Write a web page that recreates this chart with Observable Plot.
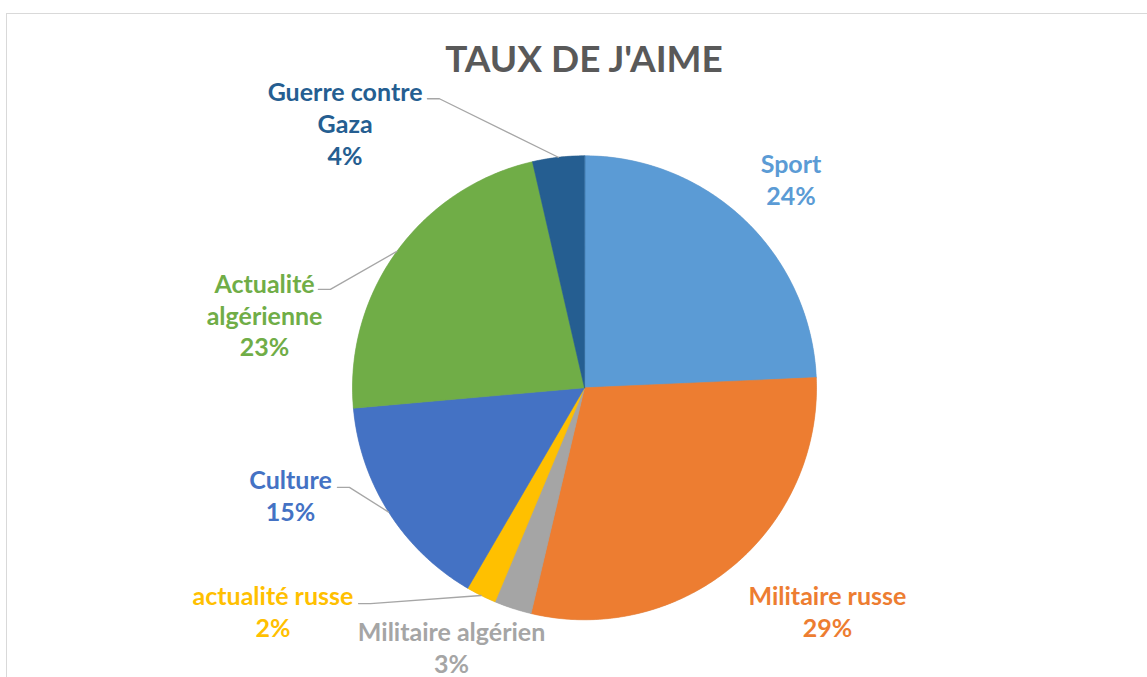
<!DOCTYPE html>
<html>
<head>
<meta charset="utf-8">
<script src="https://cdn.jsdelivr.net/npm/d3@7"></script>
<script src="https://cdn.jsdelivr.net/npm/@observablehq/plot@0.6"></script>
<style>
  html, body { margin: 0; padding: 0; background: #fff; }
  #wrap { position: relative; width: 1147px; height: 677px; overflow: hidden; background: #fff; }
  #border { position: absolute; left: 6px; top: 13px; width: 1200px; height: 700px;
            border-left: 1.5px solid #d9d9d9; border-top: 1.5px solid #d9d9d9; }
  #title { position: absolute; left: 0; width: 1168px; top: 36px; text-align: center;
           font-family: Lato, "Open Sans", sans-serif; font-weight: 700; font-size: 37px;
           color: #595959; line-height: 44px; }
  #chart { position: absolute; left: 0; top: 0; }
</style>
</head>
<body>
<div id="wrap">
  <div id="border"></div>
  <div id="chart"></div>
  <div id="title">TAUX DE J'AIME</div>
</div>
<script>
// ---- Data ----
const categories = ["Sport", "Militaire russe", "Militaire algérien", "actualité russe", "Culture", "Actualité algérienne", "Guerre contre Gaza"];
const shares = [24.3, 29.4, 2.6, 2.1, 15.2, 22.8, 3.6];
const labelNames = ["Sport", "Militaire russe", "Militaire algérien", "actualité russe", "Culture", "Actualité\nalgérienne", "Guerre contre\nGaza"];
const colors = ["#5B9BD5", "#ED7D31", "#A5A5A5", "#FFC000", "#4472C4", "#70AD47", "#255E91"];

// ---- Layout (in units of the pie radius, relative to the pie centre) ----
const W = 1147, H = 677, CX = 584, CY = 387.3, R = 232;
const labelAnchor = [[0.890, -0.901], [1.047, 0.962], [-0.573, 1.117], [-1.343, 0.963], [-1.267, 0.461], [-1.379, -0.317], [-1.032, -1.141]];
const leaderStart = [null, null, null, [-0.974, 0.930], [-1.065, 0.429], [-1.147, -0.424], [-0.677, -1.246]];
const elbow = 12 / R;

// ---- Build geometry from data ----
const total = d3.sum(shares);
let acc = 0;
const slices = categories.map((name, i) => {
  const a0 = acc / total * 2 * Math.PI;
  acc += shares[i];
  const a1 = acc / total * 2 * Math.PI;
  return {name, value: shares[i], a0, a1, mid: (a0 + a1) / 2, i};
});
const slicePts = [];
for (const s of slices) {
  slicePts.push({name: s.name, x: 0, y: 0});
  const n = Math.max(2, Math.ceil((s.a1 - s.a0) / (Math.PI / 360)));
  for (let k = 0; k <= n; k++) {
    const t = s.a0 + (s.a1 - s.a0) * k / n;
    slicePts.push({name: s.name, x: Math.sin(t), y: -Math.cos(t)});
  }
}
const labels = slices.map(s => ({
  name: s.name,
  x: labelAnchor[s.i][0],
  y: labelAnchor[s.i][1],
  text: labelNames[s.i] + "\n" + Math.round(s.value) + "%"
}));
const leaderPts = [];
for (const s of slices) {
  const st = leaderStart[s.i];
  if (!st) continue;
  leaderPts.push({name: s.name, x: st[0], y: st[1]});
  leaderPts.push({name: s.name, x: st[0] + elbow, y: st[1]});
  leaderPts.push({name: s.name, x: Math.sin(s.mid), y: -Math.cos(s.mid)});
}

const font = "Lato, 'Open Sans', sans-serif";
const chart = Plot.plot({
  width: W,
  height: H,
  margin: 0,
  style: {background: "transparent", overflow: "visible"},
  x: {domain: [-CX / R, (W - CX) / R], range: [0, W], axis: null},
  y: {domain: [-CY / R, (H - CY) / R], range: [0, H], axis: null},
  color: {domain: categories, range: colors},
  marks: [
    // shadow layer under the pie
    Plot.dot([{x: 0, y: 0}], {x: "x", y: "y", r: R, fill: "#000", fillOpacity: 0.32, stroke: null, ariaLabel: "shadow"}),
    ...slices.map(s => Plot.line(slicePts.filter(p => p.name === s.name), {x: "x", y: "y", fill: colors[s.i], stroke: colors[s.i], strokeWidth: 0.6, curve: "linear-closed"})),
    Plot.line(leaderPts, {x: "x", y: "y", z: "name", stroke: "#a6a6a6", strokeWidth: 1.3}),
    Plot.text(labels, {x: "x", y: "y", text: "text", fill: "name", fontSize: 25, fontWeight: 700, fontFamily: font, lineHeight: 1.28, lineAnchor: "middle", textAnchor: "middle"})
  ]
});
document.getElementById("chart").appendChild(chart);

// soft blur for the shadow layer (style only)
const svg = d3.select(chart);
const defs = svg.insert("defs", ":first-child");
const f = defs.append("filter").attr("id", "pieShadow").attr("x", "-20%").attr("y", "-20%").attr("width", "140%").attr("height", "140%");
f.append("feGaussianBlur").attr("stdDeviation", 4);
svg.select("g[aria-label='shadow']").attr("filter", "url(#pieShadow)").attr("transform", "translate(0,3)");
</script>
</body>
</html>
